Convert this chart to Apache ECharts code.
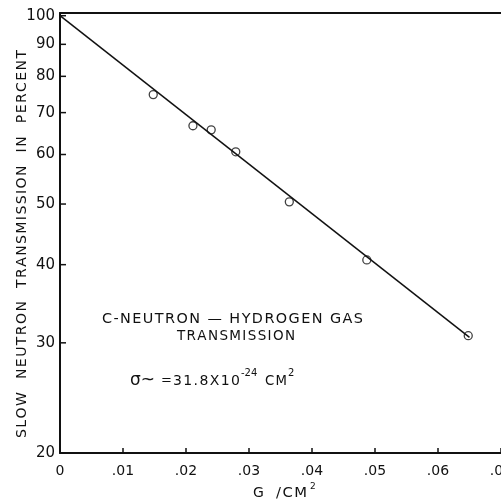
<!DOCTYPE html>
<html>
<head>
<meta charset="utf-8">
<script src="https://cdn.jsdelivr.net/npm/echarts@6/dist/echarts.min.js"></script>
<style>
  html, body { margin: 0; padding: 0; background: #fff; }
  #chart { width: 501px; height: 502px; }
</style>
</head>
<body>
<div id="chart"></div>
<script>
// measured transmission points (G/cm^2, percent)
var xMeasured = [0.0148, 0.0211, 0.0240, 0.0279, 0.0364, 0.0487, 0.0648];
var yMeasured = [74.8, 66.7, 65.7, 60.6, 50.4, 40.7, 30.8];

// fitted straight line on the log scale
var fitX = [0, 0.065];
var fitY = [100, 30.6];

// tick labels
var yTickValues = [20, 30, 40, 50, 60, 70, 80, 90, 100];
var xTickLabels = ['0', '.01', '.02', '.03', '.04', '.05', '.06', '.07'];

var INK = '#111';
var FONT = '"DejaVu Sans", sans-serif';

// hand lettering is widely spaced: hair space between letters
function spaced(s) { return s.split('').join('\u200A'); }

var measureCtx = document.createElement('canvas').getContext('2d');

function label(txt, x, y, size, align, width) {
  var font = size + 'px ' + FONT;
  var el = {
    type: 'text', x: x, y: y,
    style: {
      text: txt, align: align || 'left', verticalAlign: 'middle',
      font: font, fill: INK
    }
  };
  if (width) {
    // stretch the lettering to the width it has on the original
    measureCtx.font = font;
    el.scaleX = width / measureCtx.measureText(txt).width;
  }
  return el;
}

var chart = echarts.init(document.getElementById('chart'));

var pts = xMeasured.map(function(x, i) { return [x, yMeasured[i]]; });
var fit = fitX.map(function(x, i) { return [x, fitY[i]]; });
var yTicks = yTickValues.map(function(v) { return [0, v]; });

var yName = label(spaced('SLOW  NEUTRON  TRANSMISSION  IN  PERCENT'), 22, 244, 14, 'center', 388);
yName.rotation = Math.PI / 2;

var option = {
  backgroundColor: '#fff',
  animation: false,
  grid: { left: 60, right: 0, top: 13, bottom: 49, containLabel: false, outerBoundsMode: 'none' },
  xAxis: [{
    type: 'value', min: 0, max: 0.07, interval: 0.01,
    axisLine: { lineStyle: { color: INK, width: 2 } },
    axisTick: { inside: true, length: 5, lineStyle: { color: INK, width: 1.5 } },
    axisLabel: {
      color: INK, fontFamily: FONT, fontSize: 14, margin: 11, hideOverlap: false,
      formatter: function(v) { return xTickLabels[Math.round(v / 0.01)]; }
    },
    splitLine: { show: false }
  }, {
    type: 'value', min: 0, max: 0.07, position: 'top',
    axisLine: { lineStyle: { color: INK, width: 2 } },
    axisTick: { show: false }, axisLabel: { show: false }, splitLine: { show: false }
  }],
  yAxis: {
    type: 'log', logBase: 10, min: 20, max: 101,
    axisLine: { show: true, lineStyle: { color: INK, width: 2 } },
    axisTick: { show: false }, axisLabel: { show: false }, splitLine: { show: false }, minorTick: { show: false }
  },
  series: [{
    type: 'line', data: fit, symbol: 'none',
    lineStyle: { color: INK, width: 1.5 }
  }, {
    type: 'scatter', data: pts, symbol: 'circle', symbolSize: 8,
    itemStyle: { color: '#fff', borderColor: INK, borderWidth: 1.3 }
  }, {
    // y ticks + labels at the log positions
    type: 'custom', data: yTicks, clip: false, silent: true,
    encode: { x: 0, y: 1 },
    renderItem: function(params, api) {
      var p = api.coord([0, api.value(1)]);
      return {
        type: 'group',
        children: [{
          type: 'line',
          shape: { x1: p[0], y1: p[1], x2: p[0] + 6, y2: p[1] },
          style: { stroke: INK, lineWidth: 1.5 }
        }, {
          type: 'text',
          style: {
            text: String(api.value(1)), x: p[0] - 5, y: p[1],
            align: 'right', verticalAlign: 'middle',
            font: '15px ' + FONT, fill: INK
          }
        }]
      };
    }
  }],
  graphic: [
    yName,
    label(spaced('C-NEUTRON \u2014 HYDROGEN GAS'), 232.5, 319, 14, 'center', 261),
    label(spaced('TRANSMISSION'), 236, 336, 14, 'center', 118),
    // sigma = 31.8 x 10^-24 cm^2
    label('\u03C3~', 130, 381, 17),
    label('=', 161, 381, 13),
    label(spaced('31.8X10'), 173, 381, 14, 'left', 67),
    label('-24', 241, 373, 10),
    label(spaced('CM'), 265, 381, 14, 'left', 22),
    label('2', 288, 373, 10),
    // x axis name
    label('G', 253, 493, 14),
    label(spaced('/CM'), 276, 493, 14, 'left', 31),
    label('2', 310, 487, 9)
  ]
};

chart.setOption(option);
</script>
</body>
</html>
